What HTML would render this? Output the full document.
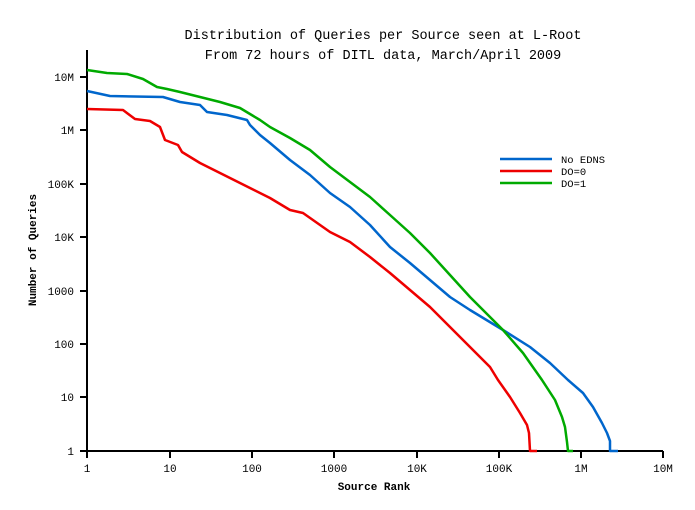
<!DOCTYPE html>
<html><head><style>body{margin:0;background:#fff}svg{display:block}text{font-family:"Liberation Mono","DejaVu Sans Mono",monospace;fill:#000}</style></head><body>
<svg width="695" height="510" xmlns="http://www.w3.org/2000/svg" font-size="12">
<text x="383" y="39" text-anchor="middle" font-size="13.5">Distribution of Queries per Source seen at L-Root</text>
<text x="383" y="59" text-anchor="middle" font-size="13.5">From 72 hours of DITL data, March/April 2009</text>
<g stroke="#000" stroke-width="2" fill="none">
<line x1="87" y1="50" x2="87" y2="452"/><line x1="86" y1="451" x2="663" y2="451"/>
<path d="M80 77H87M80 130H87M80 184H87M80 237H87M80 291H87M80 344H87M80 397H87M80 451H87"/>
<path d="M87 451V458M170 451V458M252 451V458M334 451V458M417 451V458M499 451V458M581 451V458M663 451V458"/>
</g>
<g text-anchor="end" font-size="11">
<text x="74" y="81">10M</text><text x="74" y="134">1M</text><text x="74" y="188">100K</text><text x="74" y="241">10K</text><text x="74" y="295">1000</text><text x="74" y="348">100</text><text x="74" y="401">10</text><text x="74" y="455">1</text></g>
<g text-anchor="middle" font-size="11">
<text x="87" y="472">1</text><text x="170" y="472">10</text><text x="252" y="472">100</text><text x="334" y="472">1000</text><text x="417" y="472">10K</text><text x="499" y="472">100K</text><text x="581" y="472">1M</text><text x="663" y="472">10M</text></g>
<text x="374" y="490" text-anchor="middle" font-weight="bold" font-size="11">Source Rank</text>
<text transform="translate(36,250) rotate(-90)" text-anchor="middle" font-weight="bold" font-size="11">Number of Queries</text>
<g fill="none" stroke-width="2.5" stroke-linejoin="round">
<polyline stroke="#0066cc" points="87,91 110,96 163,97 180,102 200,105 207,112 227,115 247,120 250,125 260,135 270,143 290,160 310,175 330,193 350,207 370,225 390,247 410,263 430,280 450,297 470,310 503,330 530,347 550,363 568,380 583,393 593,407 602,423 607,433 610,441 610,451 618,451"/>
<polyline stroke="#00aa00" points="87,70 107,73 127,74 143,79 157,87 167,89 180,92 200,97 220,102 240,108 250,114 260,120 270,127 290,138 310,150 330,167 350,182 370,197 390,215 410,233 430,253 450,275 470,297 503,330 523,353 542,380 555,400 562,417 565,427 567,442 568,451 573,451"/>
<polyline stroke="#ee0000" points="87,109 123,110 135,119 150,121 160,127 165,140 178,145 182,152 200,163 220,173 240,183 250,188 270,198 290,210 303,213 330,232 350,242 370,257 390,273 410,290 430,307 450,327 470,347 490,367 498,380 510,397 520,413 527,425 529,433 530,451 537,451"/>
<line x1="500" y1="159" x2="552" y2="159" stroke="#0066cc"/>
<line x1="500" y1="171" x2="552" y2="171" stroke="#ee0000"/>
<line x1="500" y1="183" x2="552" y2="183" stroke="#00aa00"/>
</g>
<g font-size="10.5"><text x="561" y="163">No EDNS</text><text x="561" y="175">DO=0</text><text x="561" y="187">DO=1</text></g>
</svg></body></html>
